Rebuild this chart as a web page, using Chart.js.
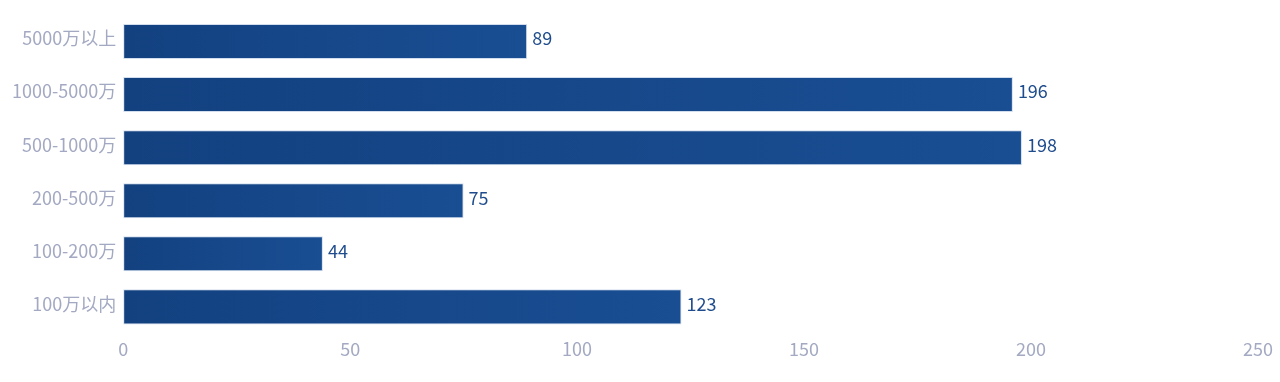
<!DOCTYPE html>
<html><head><meta charset="utf-8">
<script src="https://cdn.jsdelivr.net/npm/chart.js@4"></script>
<style>html,body{margin:0;padding:0;background:#fff}#wrap{width:1280px;height:382px}</style>
</head><body><div id="wrap"><canvas id="c"></canvas></div>
<script>
const categories = ['5000万以上','1000-5000万','500-1000万','200-500万','100-200万','100万以内'];
const values = [89,196,198,75,44,123];
const xTicks = [0,50,100,150,200,250];

const FONT = '"Noto Sans CJK SC", "Noto Sans", sans-serif';

const labelPlugin = {
  id: 'valueLabels',
  afterDatasetsDraw(chart) {
    const ctx = chart.ctx;
    const meta = chart.getDatasetMeta(0);
    ctx.save();
    ctx.font = '18px ' + FONT;
    ctx.fillStyle = '#1f4c8c';
    ctx.textAlign = 'left';
    ctx.textBaseline = 'middle';
    meta.data.forEach((el, i) => {
      ctx.fillText(String(values[i]), el.x + 5, el.y - 3);
    });
    ctx.restore();
  }
};

new Chart(document.getElementById('c'), {
  type: 'bar',
  data: {
    labels: categories,
    datasets: [{
      data: values,
      backgroundColor(context) {
        const chart = context.chart;
        const area = chart.chartArea;
        if (!area) return '#164a8e';
        const xs = chart.scales.x;
        const end = xs.getPixelForValue(context.raw);
        const g = chart.ctx.createLinearGradient(area.left, 0, Math.max(end, area.left + 1), 0);
        g.addColorStop(0, '#134180');
        g.addColorStop(1, '#194e93');
        return g;
      },
      borderColor: 'rgba(205,218,236,0.9)',
      borderWidth: 1,
      borderSkipped: false,
      categoryPercentage: 1,
      barPercentage: 0.66
    }]
  },
  options: {
    indexAxis: 'y',
    responsive: true,
    maintainAspectRatio: false,
    animation: false,
    layout: { padding: { top: 15, right: 22, bottom: 17, left: 5 } },
    plugins: { legend: { display: false }, tooltip: { enabled: false } },
    scales: {
      x: {
        min: 0, max: 250,
        afterBuildTicks(axis) { axis.ticks = xTicks.map(v => ({ value: v })); },
        afterFit(axis) { axis.paddingLeft = 0; axis.paddingRight = 0; },
        grid: { display: false, tickLength: 0, drawTicks: false },
        border: { display: false },
        ticks: { color: '#a3a9c2', font: { family: FONT, size: 18 }, padding: 5 }
      },
      y: {
        afterFit(axis) { axis.paddingTop = 0; axis.paddingBottom = 0; },
        grid: { display: false, tickLength: 0, drawTicks: false },
        border: { display: false },
        ticks: { color: '#a3a9c2', font: { family: FONT, size: 18 }, padding: 7, labelOffset: -3 }
      }
    }
  },
  plugins: [labelPlugin]
});
</script>
</body></html>
